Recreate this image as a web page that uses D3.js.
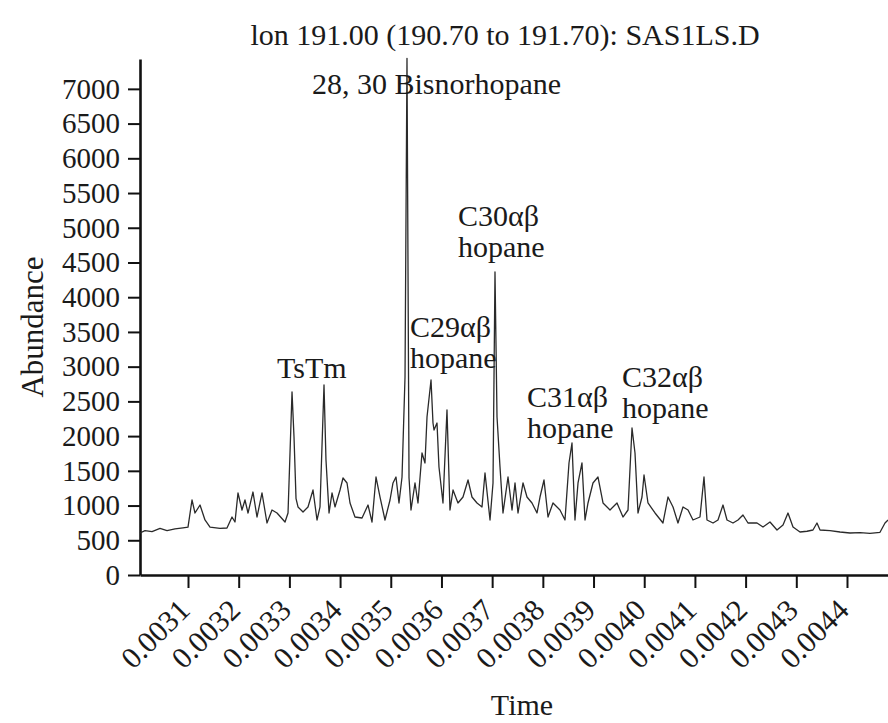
<!DOCTYPE html>
<html>
<head>
<meta charset="utf-8">
<script src="https://cdn.jsdelivr.net/npm/d3@7"></script>
<style>
  body { margin: 0; background: #fff; }
  svg text { font-family: "Liberation Serif", "Times New Roman", serif; fill: #1a1a1a; }
</style>
</head>
<body>
<div id="chart"></div>
<script>
// ion chromatogram m/z 191
var retention = [
  0.0030053, 0.0030152, 0.0030290, 0.0030448, 0.0030586, 0.0030744, 0.0030901, 0.0031000,
  0.0031079, 0.0031138, 0.0031237, 0.0031335, 0.0031434, 0.0031631, 0.0031769, 0.0031868,
  0.0031927, 0.0031986, 0.0032065, 0.0032124, 0.0032184, 0.0032282, 0.0032361, 0.0032460,
  0.0032558, 0.0032657, 0.0032756, 0.0032914, 0.0032973, 0.0033052, 0.0033091, 0.0033131,
  0.0033170, 0.0033269, 0.0033367, 0.0033466, 0.0033545, 0.0033604, 0.0033683, 0.0033722,
  0.0033782, 0.0033841, 0.0033900, 0.0033999, 0.0034058, 0.0034137, 0.0034196, 0.0034294,
  0.0034433, 0.0034551, 0.0034630, 0.0034709, 0.0034788, 0.0034886, 0.0034985, 0.0035044,
  0.0035103, 0.0035162, 0.0035222, 0.0035281, 0.0035320, 0.0035360, 0.0035399, 0.0035478,
  0.0035537, 0.0035616, 0.0035675, 0.0035715, 0.0035794, 0.0035833, 0.0035853, 0.0035912,
  0.0035951, 0.0036030, 0.0036109, 0.0036168, 0.0036228, 0.0036326, 0.0036425, 0.0036524,
  0.0036602, 0.0036701, 0.0036800, 0.0036859, 0.0036958, 0.0037017, 0.0037056, 0.0037096,
  0.0037155, 0.0037214, 0.0037313, 0.0037392, 0.0037451, 0.0037510, 0.0037609, 0.0037687,
  0.0037786, 0.0037885, 0.0037944, 0.0038023, 0.0038102, 0.0038200, 0.0038338, 0.0038437,
  0.0038516, 0.0038575, 0.0038634, 0.0038694, 0.0038772, 0.0038832, 0.0038891, 0.0038989,
  0.0039088, 0.0039187, 0.0039325, 0.0039463, 0.0039581, 0.0039680, 0.0039759, 0.0039818,
  0.0039877, 0.0039956, 0.0039996, 0.0040074, 0.0040213, 0.0040370, 0.0040469, 0.0040568,
  0.0040666, 0.0040765, 0.0040864, 0.0040962, 0.0041100, 0.0041179, 0.0041238, 0.0041357,
  0.0041455, 0.0041554, 0.0041633, 0.0041751, 0.0041850, 0.0041948, 0.0042047, 0.0042225,
  0.0042343, 0.0042481, 0.0042619, 0.0042738, 0.0042836, 0.0042935, 0.0043073, 0.0043211,
  0.0043329, 0.0043408, 0.0043468, 0.0043665, 0.0043862, 0.0044059, 0.0044257, 0.0044454,
  0.0044651, 0.0044750, 0.0044809
];
var abundance = [
  605, 640, 625, 670, 640, 665, 680, 690,
  1080, 893, 1008, 792, 690, 670, 677, 835,
  763, 1181, 936, 1080, 893, 1195, 835, 1181,
  749, 936, 893, 763, 893, 2635, 1990, 1100,
  980, 907, 980, 1224, 792, 980, 2736, 1656,
  893, 1181, 980, 1224, 1397, 1325, 1037, 835,
  821, 1008, 763, 1411, 1123, 792, 1080, 1325,
  1411, 1037, 1411, 2851, 7440, 1400, 936, 1325,
  1037, 1757, 1613, 2275, 2808, 2189, 2088, 2189,
  1555, 1037, 2376, 936, 1224, 1037, 1123, 1368,
  1123, 1037, 980, 1469, 792, 1325, 4363, 2275,
  1555, 893, 1411, 936, 1325, 893, 1325, 1123,
  1037, 893, 1123, 1368, 835, 1037, 936, 792,
  1613, 1901, 792, 1325, 1613, 792, 1037, 1325,
  1411, 1037, 936, 1037, 835, 936, 2117, 1757,
  893, 1123, 1440, 1037, 893, 749, 1123, 980,
  749, 980, 936, 792, 835, 1411, 792, 749,
  792, 1008, 792, 749, 792, 864, 749, 749,
  691, 763, 648, 720, 893, 691, 619, 630,
  648, 749, 648, 640, 619, 605, 610, 600,
  615, 749, 792
];

var yTicks = [0, 500, 1000, 1500, 2000, 2500, 3000, 3500, 4000, 4500, 5000, 5500, 6000, 6500, 7000];
var xTicks = [0.0031, 0.0032, 0.0033, 0.0034, 0.0035, 0.0036, 0.0037,
  0.0038, 0.0039, 0.0040, 0.0041, 0.0042, 0.0043, 0.0044];

// peak annotations: text lines, and where the first baseline sits (time, abundance)
var peakNames = [['28, 30 Bisnorhopane'], ['TsTm'], ['C29\u03b1\u03b2', 'hopane'],
  ['C30\u03b1\u03b2', 'hopane'], ['C31\u03b1\u03b2', 'hopane'], ['C32\u03b1\u03b2', 'hopane']];
var peakLabelTime = [0.0033446, 0.0032756, 0.0035379, 0.0036326, 0.0037687, 0.0039562];
var peakLabelAbundance = [6926, 2837, 3427, 5030, 2419, 2707];

var title = 'lon 191.00 (190.70 to 191.70): SAS1LS.D';

var width = 888, height = 723,
  margin = {top: 59, right: 0, bottom: 148, left: 140};

var svg = d3.select('#chart').append('svg')
  .attr('width', width)
  .attr('height', height);

var x = d3.scaleLinear()
  .domain([0.0030053, 0.0044809])
  .range([margin.left, width - margin.right]);

var y = d3.scaleLinear()
  .domain([0, 7430])
  .range([height - margin.bottom, margin.top]);

// y axis, plain numbers without thousands separator
var yAxisG = svg.append('g')
  .attr('transform', 'translate(' + margin.left + ',0)')
  .call(d3.axisLeft(y).tickValues(yTicks).tickSize(12).tickSizeOuter(0).tickPadding(8)
    .tickFormat(d3.format('d')));
yAxisG.attr('font-family', null).attr('font-size', 29).attr('color', '#111');
yAxisG.select('.domain').attr('stroke-width', 2.6);
yAxisG.selectAll('.tick line').attr('stroke-width', 2);

// x axis, labels turned 45 degrees
var xAxisG = svg.append('g')
  .attr('transform', 'translate(0,' + (height - margin.bottom) + ')')
  .call(d3.axisBottom(x).tickValues(xTicks).tickSize(13).tickSizeOuter(0)
    .tickFormat(d3.format('.4f')));
xAxisG.attr('font-family', null).attr('font-size', 30).attr('color', '#111');
xAxisG.select('.domain').attr('stroke-width', 2.6);
xAxisG.selectAll('.tick line').attr('stroke-width', 2);
xAxisG.selectAll('.tick text')
  .attr('x', 3)
  .attr('y', 37)
  .attr('dy', 0)
  .attr('text-anchor', 'end')
  .attr('transform', 'rotate(-45 3 37)');

// the trace
var line = d3.line()
  .x(function(d, i) { return x(retention[i]); })
  .y(function(d) { return y(d); });

svg.append('path')
  .datum(abundance)
  .attr('fill', 'none')
  .attr('stroke', '#2a2a2a')
  .attr('stroke-width', 1.3)
  .attr('stroke-linejoin', 'round')
  .attr('d', line);

// peak labels
peakNames.forEach(function(lines, i) {
  var t = svg.append('text')
    .attr('x', x(peakLabelTime[i]))
    .attr('y', y(peakLabelAbundance[i]))
    .attr('font-size', 30);
  lines.forEach(function(s, j) {
    t.append('tspan')
      .attr('x', x(peakLabelTime[i]))
      .attr('dy', j === 0 ? 0 : '1.04em')
      .text(s);
  });
});

// titles
svg.append('text')
  .attr('x', 505)
  .attr('y', 45)
  .attr('text-anchor', 'middle')
  .attr('font-size', 30)
  .text(title);

svg.append('text')
  .attr('x', 522)
  .attr('y', 715)
  .attr('text-anchor', 'middle')
  .attr('font-size', 30)
  .text('Time');

svg.append('text')
  .attr('transform', 'translate(43,327) rotate(-90)')
  .attr('text-anchor', 'middle')
  .attr('font-size', 31)
  .text('Abundance');
</script>
</body>
</html>
